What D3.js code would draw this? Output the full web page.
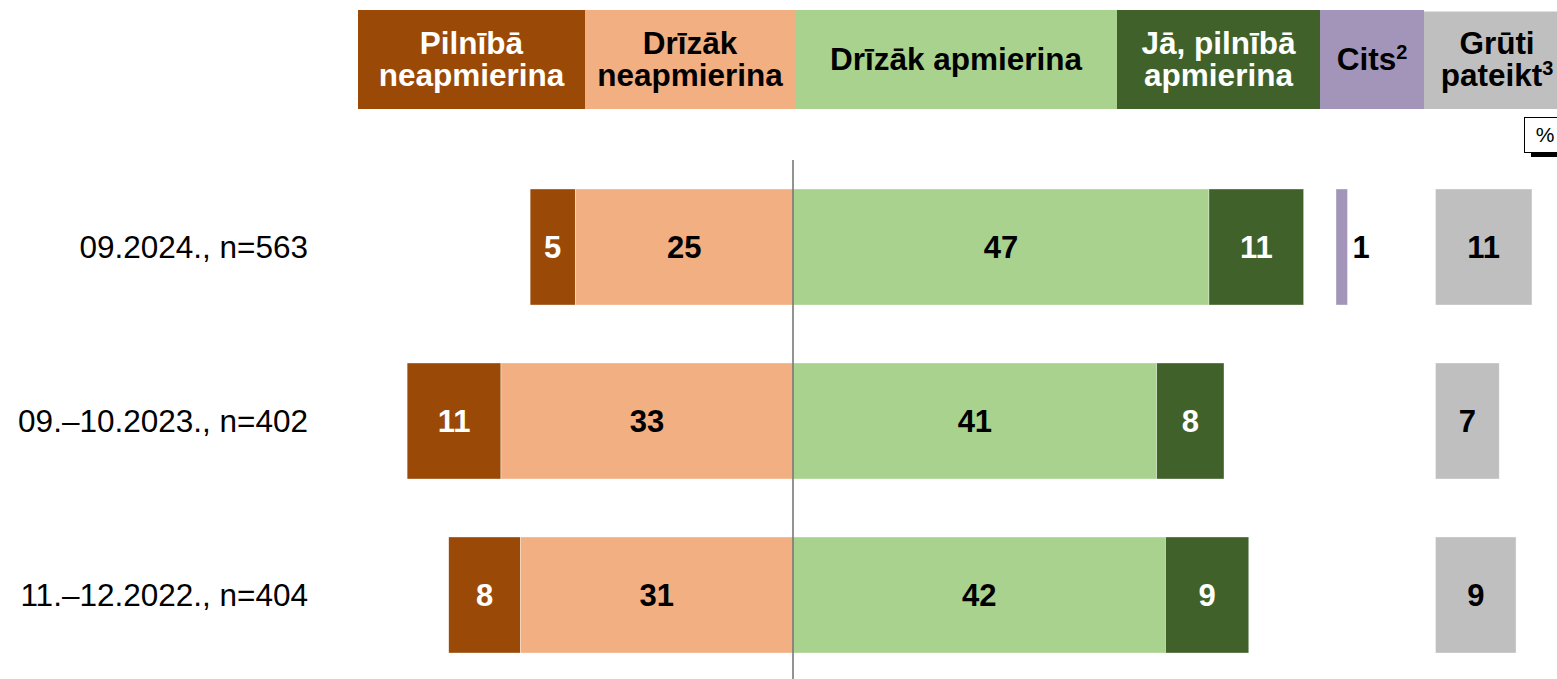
<!DOCTYPE html>
<html>
<head>
  <meta charset="utf-8">
  <title>Apmierinātība</title>
  <style>
    html, body { margin: 0; padding: 0; background: #fff; overflow: hidden; }
    svg { display: block; font-family: "Liberation Sans", Arial, sans-serif; }
    .hdr { font-size: 31.5px; font-weight: bold; }
    .val { font-size: 31px; font-weight: bold; }
    .row { font-size: 31.5px; }
  </style>
</head>
<body>
  <div id="chart"></div>
  <script src="https://d3js.org/d3.v7.min.js"></script>
  <script>
    // Chart data (shares in %, labels are rounded)
    const rows = ["09.2024., n=563", "09.–10.2023., n=402", "11.–12.2022., n=404"];
    const fullyDissatisfied = [5.1, 10.6, 8.1];
    const ratherDissatisfied = [24.6, 33.0, 30.8];
    const ratherSatisfied = [47.0, 41.1, 42.1];
    const fullySatisfied = [10.7, 7.6, 9.4];
    const otherAnswer = [1.3, null, null];
    const hardToSay = [10.9, 7.2, 9.1];
    const headerLines = [
      ["Pilnībā", "neapmierina"],
      ["Drīzāk", "neapmierina"],
      ["Drīzāk apmierina"],
      ["Jā, pilnībā", "apmierina"],
      ["Cits²"],
      ["Grūti", "pateikt³"]
    ];

    // Layout
    const W = 1557, H = 679;
    const colors = ["#9A4A06", "#F2AF82", "#A8D28E", "#40622A", "#A395B9", "#BFBFBF"];
    const textColors = ["#fff", "#000", "#000", "#fff", "#000", "#000"];
    const headerEdges = [358, 585, 795, 1117, 1320, 1424, 1570];
    const center = 793, unit = 8.85;

    const svg = d3.select("#chart").append("svg")
      .attr("width", W).attr("height", H);

    const x = d3.scaleLinear().domain([-50, 60]).range([center - 50 * unit, center + 60 * unit]);
    const xOther = d3.scaleLinear().domain([0, 10]).range([1336, 1336 + 10 * unit]);
    const xHard = d3.scaleLinear().domain([0, 10]).range([1435.5, 1435.5 + 10 * unit]);
    const y = d3.scaleBand().domain(rows).range([160, 682]).paddingInner(1 / 3).paddingOuter(1 / 6);

    // Header boxes
    const hdr = svg.append("g");
    headerLines.forEach((lines, i) => {
      const x0 = headerEdges[i], x1 = headerEdges[i + 1];
      hdr.append("rect")
        .attr("x", x0).attr("y", i === 5 ? 11.5 : 10)
        .attr("width", x1 - x0).attr("height", i === 5 ? 97.5 : 99)
        .attr("fill", colors[i]);
      const cx = (x0 + x1) / 2;
      const startY = 58.5 - (lines.length - 1) * 16;
      lines.forEach((line, j) => {
        const t = hdr.append("text")
          .attr("class", "hdr")
          .attr("x", cx).attr("y", startY + j * 32)
          .attr("dy", "0.36em")
          .attr("text-anchor", "middle")
          .attr("fill", textColors[i]);
        const m = line.match(/^(.*?)([²³])$/);
        if (m) {
          t.append("tspan").text(m[1]);
          t.append("tspan").attr("font-size", 20).attr("dy", -11)
            .text(m[2] === "²" ? "2" : "3");
        } else {
          t.text(line);
        }
      });
    });

    // Percent box
    svg.append("rect").attr("x", 1531).attr("y", 151).attr("width", 30).attr("height", 6).attr("fill", "#000");
    svg.append("rect").attr("x", 1524.5).attr("y", 117.5).attr("width", 40).attr("height", 35)
      .attr("fill", "#fff").attr("stroke", "#000").attr("stroke-width", 1);
    svg.append("text").attr("x", 1545).attr("y", 135).attr("dy", "0.35em")
      .attr("text-anchor", "middle").attr("font-size", 21).text("%");

    // Stacked segments per row
    const segs = [];
    rows.forEach((r, i) => {
      const a = fullyDissatisfied[i], b = ratherDissatisfied[i];
      const c = ratherSatisfied[i], d = fullySatisfied[i];
      segs.push({ row: r, k: 0, v: a, x0: x(-(a + b)), x1: x(-b) });
      segs.push({ row: r, k: 1, v: b, x0: x(-b), x1: x(0) });
      segs.push({ row: r, k: 2, v: c, x0: x(0), x1: x(c) });
      segs.push({ row: r, k: 3, v: d, x0: x(c), x1: x(c + d) });
      if (otherAnswer[i] != null) {
        segs.push({ row: r, k: 4, v: otherAnswer[i], x0: xOther(0), x1: xOther(otherAnswer[i]), outside: true });
      }
      segs.push({ row: r, k: 5, v: hardToSay[i], x0: xHard(0), x1: xHard(hardToSay[i]) });
    });

    const g = svg.append("g");
    g.selectAll("rect.seg").data(segs).join("rect")
      .attr("class", "seg")
      .attr("x", d => d.x0).attr("y", d => y(d.row))
      .attr("width", d => d.x1 - d.x0).attr("height", y.bandwidth())
      .attr("fill", d => colors[d.k])
      .attr("stroke", "#fff").attr("stroke-width", 0.6).attr("stroke-opacity", 0.6);

    g.selectAll("text.val").data(segs).join("text")
      .attr("class", "val")
      .attr("x", d => d.outside ? d.x1 + 5 : (d.x0 + d.x1) / 2)
      .attr("y", d => y(d.row) + y.bandwidth() / 2)
      .attr("dy", "0.36em")
      .attr("text-anchor", d => d.outside ? "start" : "middle")
      .attr("fill", d => d.outside ? "#000" : textColors[d.k])
      .text(d => Math.round(d.v));

    // Row labels
    svg.selectAll("text.row").data(rows).join("text")
      .attr("class", "row")
      .attr("x", 308)
      .attr("y", d => y(d) + y.bandwidth() / 2)
      .attr("dy", "0.36em")
      .attr("text-anchor", "end")
      .text(d => d);

    // Center line
    svg.append("line")
      .attr("x1", x(0)).attr("x2", x(0))
      .attr("y1", 160).attr("y2", H)
      .attr("stroke", "#6f6f6f").attr("stroke-width", 1.5);
  </script>
</body>
</html>
